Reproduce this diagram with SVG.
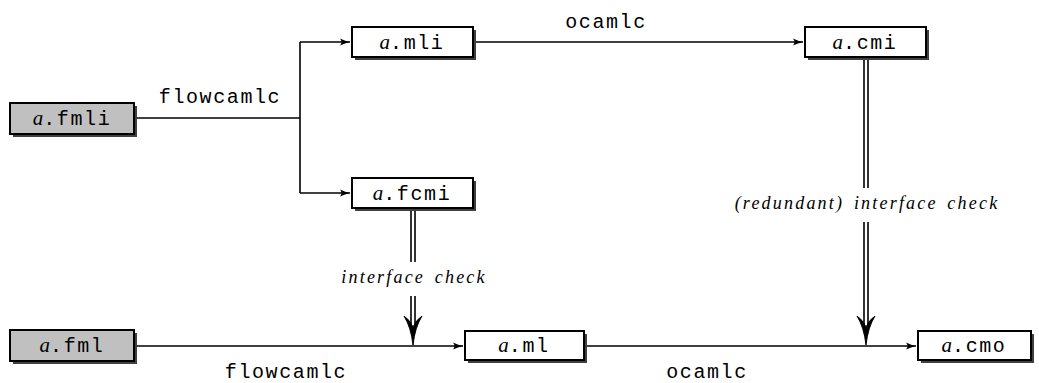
<svg xmlns="http://www.w3.org/2000/svg" width="1039" height="383" viewBox="0 0 1039 383">
<defs>
<marker id="arr" markerWidth="12" markerHeight="10" refX="10" refY="5" orient="auto" markerUnits="userSpaceOnUse">
<path d="M0,1.5 Q5,4 10,5 Q5,6 0,8.5 Q3,5 0,1.5 Z" fill="#000"/>
</marker>
</defs>
<style>
.shadow{fill:#404040;}
.box{stroke:#000;stroke-width:2;}
.in{fill:#c0c0c0;}
.out{fill:#fff;}
.mono{font-family:"Liberation Mono",monospace;font-size:20px;letter-spacing:1.6px;fill:#000;}
.it{font-family:"Liberation Serif",serif;font-style:italic;fill:#000;}
.lbl{font-family:"Liberation Serif",serif;font-style:italic;font-size:18px;letter-spacing:2.2px;word-spacing:3px;fill:#000;text-anchor:middle;}
.ln{stroke:#000;stroke-width:1.6;fill:none;}
.dbl{stroke:#000;stroke-width:1.6;fill:none;}
</style>
<rect width="1039" height="383" fill="#fff"/>
<g id="connectors">
<path class="ln" d="M134,118 H300"/>
<path class="ln" d="M300,42 V193"/>
<path class="ln" d="M300,42 H350" marker-end="url(#arr)"/>
<path class="ln" d="M300,193 H350" marker-end="url(#arr)"/>
<path class="ln" d="M473,42 H803" marker-end="url(#arr)"/>
<path class="ln" d="M134,346 H463" marker-end="url(#arr)"/>
<path class="ln" d="M584,346 H916" marker-end="url(#arr)"/>
<path class="dbl" d="M411,208 V262 M415,208 V262 M411,296 V326 M415,296 V326"/>
<path d="M404,316 Q411,327 413,345 Q415,327 422,316 Q416,320 413,327 Q410,320 404,316 Z" fill="#000" stroke="#000" stroke-width="1"/>
<path class="dbl" d="M864,57 V188 M868,57 V188 M864,222 V326 M868,222 V326"/>
<path d="M857,316 Q864,327 866,345 Q868,327 875,316 Q869,320 866,327 Q863,320 857,316 Z" fill="#000" stroke="#000" stroke-width="1"/>
<text class="mono" x="220" y="103" text-anchor="middle">flowcamlc</text>
<text class="mono" x="606" y="28" text-anchor="middle">ocamlc</text>
<text class="mono" x="286" y="378" text-anchor="middle">flowcamlc</text>
<text class="mono" x="707" y="378" text-anchor="middle">ocamlc</text>
<text class="lbl" x="414" y="283">interface check</text>
<text class="lbl" x="867" y="209">(redundant) interface check</text>
</g>
<g id="n-fmli">
<rect class="shadow" x="13" y="106" width="124" height="31"/>
<rect class="box in" x="10" y="103" width="124" height="31"/>
<text x="72" y="125" text-anchor="middle"><tspan class="it" font-size="21">a</tspan><tspan class="mono">.fmli</tspan></text>
</g>
<g id="n-mli">
<rect class="shadow" x="355" y="30" width="121" height="30"/>
<rect class="box out" x="352" y="27" width="121" height="30"/>
<text x="412" y="49" text-anchor="middle"><tspan class="it" font-size="21">a</tspan><tspan class="mono">.mli</tspan></text>
</g>
<g id="n-fcmi">
<rect class="shadow" x="355" y="181" width="121" height="30"/>
<rect class="box out" x="352" y="178" width="121" height="30"/>
<text x="412" y="200" text-anchor="middle"><tspan class="it" font-size="21">a</tspan><tspan class="mono">.fcmi</tspan></text>
</g>
<g id="n-cmi">
<rect class="shadow" x="808" y="30" width="121" height="30"/>
<rect class="box out" x="805" y="27" width="121" height="30"/>
<text x="865" y="49" text-anchor="middle"><tspan class="it" font-size="21">a</tspan><tspan class="mono">.cmi</tspan></text>
</g>
<g id="n-fml">
<rect class="shadow" x="13" y="333" width="124" height="31"/>
<rect class="box in" x="10" y="330" width="124" height="31"/>
<text x="72" y="352" text-anchor="middle"><tspan class="it" font-size="21">a</tspan><tspan class="mono">.fml</tspan></text>
</g>
<g id="n-ml">
<rect class="shadow" x="468" y="334" width="119" height="29"/>
<rect class="box out" x="465" y="331" width="119" height="29"/>
<text x="524" y="352" text-anchor="middle"><tspan class="it" font-size="21">a</tspan><tspan class="mono">.ml</tspan></text>
</g>
<g id="n-cmo">
<rect class="shadow" x="921" y="334" width="113" height="29"/>
<rect class="box out" x="918" y="331" width="113" height="29"/>
<text x="974" y="352" text-anchor="middle"><tspan class="it" font-size="21">a</tspan><tspan class="mono">.cmo</tspan></text>
</g>
</svg>
